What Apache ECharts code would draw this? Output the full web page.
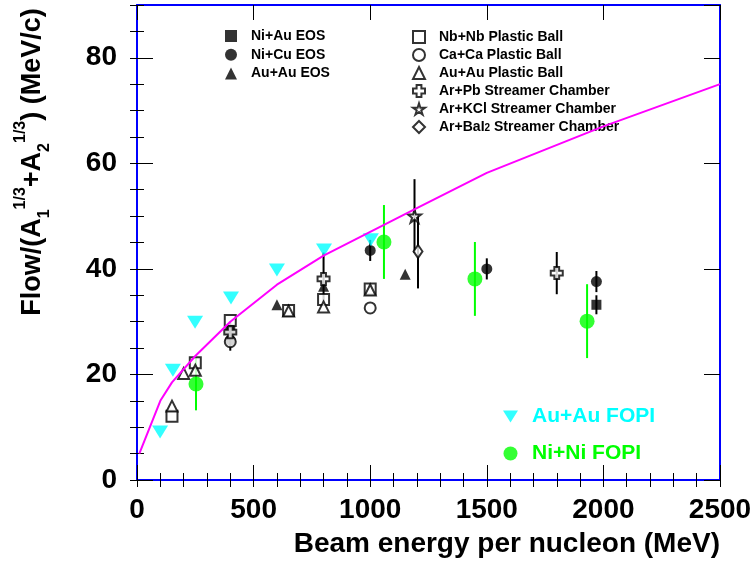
<!DOCTYPE html>
<html><head><meta charset="utf-8">
<script src="https://cdn.jsdelivr.net/npm/echarts@6/dist/echarts.min.js"></script>
<style>html,body{margin:0;padding:0;background:#fff}#c{width:752px;height:561px}</style>
</head><body><div id="c"></div>
<script>
// ---- data ----
const xTicks = [0, 500, 1000, 1500, 2000, 2500];
const yTicks = [0, 20, 40, 60, 80];
const flowX = [10, 100, 150, 250, 400, 600, 800, 1000, 1200, 1500, 2000, 2500];
const flowY = [5, 15, 18.5, 23.5, 30, 37, 42.5, 47, 51.5, 58.2, 67, 75];
const niAuEOS = [[400, 28.5], [1970, 33.2]];
const niAuEOSErr = [1.5, 1.8];
const niCuEOS = [[400, 26.5], [1000, 43.5], [1500, 40], [1970, 37.6]];
const niCuEOSErr = [2, 2, 2, 2];
const auAuEOS = [[600, 33.2], [800, 36.7], [1150, 39]];
const nbNbPB = [[150, 12.1], [250, 22.2], [400, 30.2], [650, 32.1], [800, 34.2], [1000, 36.2]];
const caCaPB = [[400, 26.2], [1000, 32.6]];
const auAuPB = [[150, 14], [200, 20.2], [250, 20.8], [650, 32], [800, 32.8], [1000, 36]];
const arPbSC = [[400, 28], [800, 38.1], [1800, 39.2]];
const arPbSCErr = [0, 5, 4];
const arKClSC = [[1190, 50]];
const arKClSCErr = [7];
const arBaI2SC = [[1205, 43.3]];
const arBaI2SCErr = [7];
const auAuFOPI = [[99, 9.1], [154, 20.8], [249, 29.9], [403, 34.5], [600, 39.8], [802, 43.6], [1003, 45.5]];
const niNiFOPI = [[253, 18.2], [1059, 45.1], [1449, 38.1], [1930, 30.1]];
const niNiFOPIErr = [5, 7, 7, 7];

// ---- build ----
const FONT = '"Liberation Sans", Arial, Helvetica, sans-serif';
function errs(pts, e) { return pts.map((p, i) => [p[0], p[1] - e[i], p[1] + e[i]]).filter((d, i) => e[i] > 0); }
const blackErr = [].concat(errs(niAuEOS, niAuEOSErr), errs(niCuEOS, niCuEOSErr), errs(arPbSC, arPbSCErr),
  errs(arKClSC, arKClSCErr), errs(arBaI2SC, arBaI2SCErr));
const greenErr = errs(niNiFOPI, niNiFOPIErr);
function errSeries(data, color) {
  return {
    type: 'custom', data: data, z: 1, silent: true,
    encode: { x: 0, y: [1, 2] },
    renderItem: function (params, api) {
      const a = api.coord([api.value(0), api.value(1)]);
      const b = api.coord([api.value(0), api.value(2)]);
      return { type: 'line', shape: { x1: a[0], y1: a[1], x2: b[0], y2: b[1] }, style: { stroke: color, lineWidth: 2 } };
    }
  };
}
const openStyle = { color: '#fff', borderColor: '#000', borderWidth: 2 };
const plusPath = 'path://M3,0 H7 V3 H10 V7 H7 V10 H3 V7 H0 V3 H3 Z';
const starPath = 'path://M50,0 L61,35 L98,35 L68,57 L79,91 L50,70 L21,91 L32,57 L2,35 L39,35 Z';
const downTri = 'path://M0,0 L16,0 L8,13 Z';
function sc(name, data, symbol, size, style, extra) {
  return Object.assign({ name: name, type: 'scatter', data: data, symbol: symbol, symbolSize: size, itemStyle: style, z: 3 }, extra || {});
}
const frameLine = { show: true, onZero: false, lineStyle: { color: '#0000ff', width: 2 } };
const noLine = { show: false };
function tick(len) { return { show: true, inside: true, length: len, lineStyle: { color: '#000', width: 1 } }; }
const xMajor = { type: 'value', min: 0, max: 2500, interval: 500, splitLine: noLine, axisLine: frameLine, axisTick: tick(15) };
const xMinor = { type: 'value', min: 0, max: 2500, interval: 100, splitLine: noLine, axisLine: noLine, axisLabel: noLine, axisTick: tick(7) };
const yMajor = { type: 'value', min: 0, max: 90, interval: 20, splitLine: noLine, axisLine: frameLine, axisTick: tick(16) };
const yMinor = { type: 'value', min: 0, max: 90, interval: 5, splitLine: noLine, axisLine: noLine, axisLabel: noLine, axisTick: tick(7) };
const legendText = { fontFamily: FONT, fontWeight: 'bold', fontSize: 14, color: '#000', lineHeight: 12, padding: [0, 0, 0, 9],
  rich: { sub: { fontFamily: FONT, fontWeight: 'bold', fontSize: 10, verticalAlign: 'bottom', padding: [9, 0, 0, 0] } } };

const option = {
  animation: false,
  backgroundColor: '#fff',
  grid: { left: 137, right: 32, top: 5, bottom: 81, outerBoundsMode: 'none', containLabel: false },
  xAxis: [
    Object.assign({}, xMajor, { position: 'bottom',
      axisLabel: { fontFamily: FONT, fontWeight: 'bold', fontSize: 28, color: '#000', margin: 16, hideOverlap: false,
        showMinLabel: true, showMaxLabel: true,
        formatter: v => (xTicks.indexOf(v) >= 0 ? String(v) : '') } }),
    Object.assign({}, xMajor, { position: 'top', axisLabel: noLine }),
    Object.assign({}, xMinor, { position: 'bottom' }),
    Object.assign({}, xMinor, { position: 'top' })
  ],
  yAxis: [
    Object.assign({}, yMajor, { position: 'left',
      axisLabel: { fontFamily: FONT, fontWeight: 'bold', fontSize: 28, color: '#000', margin: 20, showMaxLabel: false,
        formatter: v => (yTicks.indexOf(v) >= 0 ? String(v) : '') } }),
    Object.assign({}, yMinor, { position: 'left' }),
    Object.assign({}, yMajor, { position: 'right', axisLabel: noLine }),
    Object.assign({}, yMinor, { position: 'right' })
  ],
  legend: [
    { left: 225, top: 29, orient: 'vertical', padding: 0, itemWidth: 12, itemHeight: 12, itemGap: 4.7, textStyle: legendText,
      data: ['Ni+Au EOS', 'Ni+Cu EOS', 'Au+Au EOS'] },
    { left: 412, top: 30, orient: 'vertical', padding: 0, itemWidth: 12, itemHeight: 12, itemGap: 4, textStyle: legendText,
      formatter: n => n.replace('BaI2', 'BaI{sub|2}'),
      data: ['Nb+Nb Plastic Ball', 'Ca+Ca Plastic Ball', 'Au+Au Plastic Ball', 'Ar+Pb Streamer Chamber', 'Ar+KCl Streamer Chamber', 'Ar+BaI2 Streamer Chamber'] },
    { left: 503, top: 406, orient: 'vertical', padding: 0, itemWidth: 15, itemHeight: 14, itemGap: 16,
      textStyle: { fontFamily: FONT, fontWeight: 'bold', fontSize: 21, lineHeight: 14, padding: [0, 0, 0, 9] },
      data: [{ name: 'Au+Au FOPI', icon: downTri, textStyle: { color: '#00ffff' } }, { name: 'Ni+Ni FOPI', textStyle: { color: '#00ff00' } }] }
  ],
  series: [
    errSeries(blackErr, '#000'),
    errSeries(greenErr, '#00ff00'),
    sc('Ni+Au EOS', niAuEOS, 'rect', 10, { color: '#000' }),
    sc('Ni+Cu EOS', niCuEOS, 'circle', 11, { color: '#000' }),
    sc('Au+Au EOS', auAuEOS, 'triangle', 11, { color: '#000' }),
    sc('Nb+Nb Plastic Ball', nbNbPB, 'rect', 11, openStyle),
    sc('Ca+Ca Plastic Ball', caCaPB, 'circle', 11, openStyle),
    sc('Au+Au Plastic Ball', auAuPB, 'triangle', 11, openStyle),
    sc('Ar+Pb Streamer Chamber', arPbSC, plusPath, 12, openStyle),
    sc('Ar+KCl Streamer Chamber', arKClSC, starPath, 13, openStyle),
    sc('Ar+BaI2 Streamer Chamber', arBaI2SC, 'diamond', [9, 13], openStyle),
    sc('Au+Au FOPI', auAuFOPI, downTri, [16, 13], { color: '#00ffff' }),
    sc('Ni+Ni FOPI', niNiFOPI, 'circle', 15, { color: '#00ff00' }, { z: 4 }),
    { name: 'fit', type: 'line', data: flowX.map((x, i) => [x, flowY[i]]), showSymbol: false, symbol: 'none',
      lineStyle: { color: '#ff00ff', width: 2 }, z: 5 }
  ],
  graphic: [
    { type: 'text', x: 33, y: 162, rotation: Math.PI / 2, silent: true,
      style: { text: 'Flow/(A{sub|1}{sup|1/3}+A{sub|2}{sup|1/3}) (MeV/c)', fontFamily: FONT, fontWeight: 'bold', fontSize: 27,
        fill: '#000', align: 'center', verticalAlign: 'middle', lineHeight: 40,
        rich: { sub: { fontFamily: FONT, fontWeight: 'bold', fontSize: 16, verticalAlign: 'bottom', fill: '#000' },
                sup: { fontFamily: FONT, fontWeight: 'bold', fontSize: 16, verticalAlign: 'top', fill: '#000' } } } },
    { type: 'text', x: 720, y: 544, silent: true,
      style: { text: 'Beam energy per nucleon (MeV)', fontFamily: FONT, fontWeight: 'bold', fontSize: 28, fill: '#000',
        align: 'right', verticalAlign: 'middle' } }
  ]
};
const chart = echarts.init(document.getElementById('c'), null, { renderer: 'canvas' });
chart.setOption(option);
</script></body></html>
